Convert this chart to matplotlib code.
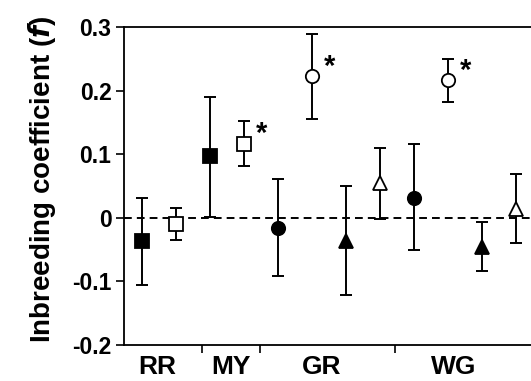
import matplotlib
matplotlib.use("Agg")
import matplotlib.pyplot as plt
import numpy as np

# Data
positions = [1, 2, 3, 4, 5, 6, 7, 8, 9, 10, 11, 12]
values = [-0.037, -0.009, 0.097, 0.117, -0.016, 0.223, -0.037, 0.055, 0.032, 0.217, -0.046, 0.014]
upper = [0.031, 0.015, 0.191, 0.152, 0.061, 0.290, 0.050, 0.111, 0.116, 0.250, -0.006, 0.070]
lower = [-0.105, -0.034, 0.002, 0.082, -0.092, 0.156, -0.122, -0.001, -0.051, 0.182, -0.084, -0.040]
markers = ['s', 's', 's', 's', 'o', 'o', '^', '^', 'o', 'o', '^', '^']
filled = [True, False, True, False, True, False, True, False, True, False, True, False]
significant = [False, False, False, True, False, True, False, False, False, True, False, False]

group_labels = ['RR', 'MY', 'GR', 'WG']
group_label_pos = [1.45, 3.62, 6.28, 10.19]
group_bounds = [2.76, 4.49, 8.46]
yticks = [-0.2, -0.1, 0.0, 0.1, 0.2, 0.3]
yticklabels = ['-0.2', '-0.1', '0', '0.1', '0.2', '0.3']

plt.rcParams['font.family'] = ['Liberation Sans', 'DejaVu Sans']
plt.rcParams['font.weight'] = 'bold'

fig = plt.figure(figsize=(5.31, 3.81), dpi=100)
ax = fig.add_axes([124/531, 1 - 345/381, 1 - 124/531, (345 - 27.5)/381])

ax.axhline(0, color='black', lw=1.4, ls=(0, (4, 2.6)), zorder=1)

for x, v, u, l, m, f, s in zip(positions, values, upper, lower, markers, filled, significant):
    ax.errorbar([x], [v], yerr=[[v - l], [u - v]], fmt='none', ecolor='black',
                elinewidth=1.4, capsize=4.2, capthick=1.4, zorder=2)
    ms = 9.6 if m != '^' else 10.5
    ax.plot([x], [v], marker=m, ms=ms, mfc='black' if f else 'white', mec='black',
            mew=1.3, ls='none', zorder=3)
    if s:
        ax.annotate('*', (x, v), xytext=(12.5, 7), textcoords='offset points',
                    ha='center', va='center', fontsize=21, fontweight='bold')

ax.set_xlim(0.48, 12.45)
ax.set_ylim(-0.2, 0.3)
ax.set_yticks(yticks)
ax.set_yticklabels(yticklabels)
ax.tick_params(axis='y', direction='out', length=6, width=1.2, labelsize=16.5, pad=3)

ax.set_xticks(group_bounds)
ax.set_xticklabels([])
ax.tick_params(axis='x', direction='out', length=6, width=1.2)
for lab, p in zip(group_labels, group_label_pos):
    ax.annotate(lab, (p, -0.2), xytext=(0, -7), textcoords='offset points',
                ha='center', va='top', fontsize=19, fontweight='bold')

ax.spines['right'].set_visible(False)
for sp in ['left', 'bottom', 'top']:
    ax.spines[sp].set_linewidth(1.3)

fig.text(42/531, 1 - 179/381, 'Inbreeding coefficient ($\\mathbf{\\mathit{f}}$)',
         rotation=90, ha='center', va='center', fontsize=20, fontweight='bold')

fig.savefig('out.png', dpi=100)
